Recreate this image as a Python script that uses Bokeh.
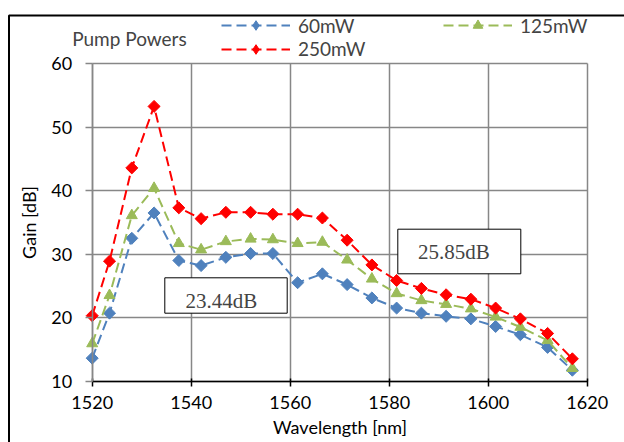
import math
from bokeh.plotting import figure
from bokeh.models import Range1d, Legend, LegendItem, Label, BoxAnnotation, FixedTicker
from bokeh.embed import file_html
from bokeh.resources import INLINE

# ---- data ----
wavelength = [1520, 1523.5, 1528, 1532.5, 1537.5, 1542, 1547, 1552, 1556.5, 1561.5, 1566.5,
              1571.5, 1576.5, 1581.5, 1586.5, 1591.5, 1596.5, 1601.5, 1606.5, 1612, 1617]
gain_60mW = [13.6, 20.7, 32.5, 36.5, 29.0, 28.2, 29.5, 30.1, 30.1, 25.5, 26.9,
             25.2, 23.1, 21.5, 20.7, 20.2, 19.8, 18.6, 17.3, 15.3, 11.7]
gain_125mW = [15.9, 23.5, 36.1, 40.4, 31.7, 30.7, 32.0, 32.4, 32.3, 31.7, 31.9,
              29.1, 26.1, 23.8, 22.7, 22.1, 21.4, 20.1, 18.5, 16.4, 12.0]
gain_250mW = [20.3, 28.9, 43.6, 53.3, 37.3, 35.6, 36.6, 36.6, 36.3, 36.3, 35.7,
              32.2, 28.3, 25.85, 24.6, 23.6, 22.9, 21.5, 19.8, 17.5, 13.5]
series_labels = ["60mW", "125mW", "250mW"]
x_ticks = [1520, 1540, 1560, 1580, 1600, 1620]
y_ticks = [10, 20, 30, 40, 50, 60]
note_texts = ["23.44dB", "25.85dB"]

FONT = "Lato"
GRID = "#878787"
W, H = 624, 442

# frame covers the whole canvas; the axes sit at fixed data locations
PX_PER_NM = 4.95
PX_PER_DB = 6.342
X0_PX, Y10_PX = 91.7, 380.5
x_start = 1520 - X0_PX / PX_PER_NM
x_end = x_start + W / PX_PER_NM
y_end = 10 + Y10_PX / PX_PER_DB
y_start = 10 - (H - Y10_PX) / PX_PER_DB

def dx(px):
    return 1520 + (px - X0_PX) / PX_PER_NM

def dy(py):
    return 10 + (Y10_PX - py) / PX_PER_DB

p = figure(width=W, height=H, x_range=Range1d(x_start, x_end), y_range=Range1d(y_start, y_end),
           output_backend="svg", toolbar_location=None,
           min_border_left=0, min_border_right=0, min_border_top=0, min_border_bottom=0)
p.outline_line_color = None
p.background_fill_color = "white"
p.border_fill_color = "white"

p.xaxis.ticker = FixedTicker(ticks=x_ticks)
p.yaxis.ticker = FixedTicker(ticks=y_ticks)
p.xaxis.fixed_location = 10
p.yaxis.fixed_location = 1520
p.xaxis.bounds = (1520, 1620)
p.yaxis.bounds = (10, 60)

grid_ok = True
try:
    p.xgrid.cross_bounds = (10, 60)
    p.ygrid.cross_bounds = (1520, 1620)
except Exception:
    grid_ok = False
if grid_ok:
    for g in (p.xgrid[0], p.ygrid[0]):
        g.grid_line_color = GRID
        g.grid_line_width = 1.5
else:
    p.xgrid.grid_line_color = None
    p.ygrid.grid_line_color = None
    p.segment(x0=x_ticks, y0=[y_ticks[0]] * len(x_ticks), x1=x_ticks, y1=[y_ticks[-1]] * len(x_ticks),
              line_color=GRID, line_width=1.5, level="underlay")
    p.segment(x0=[x_ticks[0]] * len(y_ticks), y0=y_ticks, x1=[x_ticks[-1]] * len(y_ticks), y1=y_ticks,
              line_color=GRID, line_width=1.5, level="underlay")

p.xaxis.axis_label = "Wavelength [nm]"
p.yaxis.axis_label = "Gain [dB]"
for ax in (p.xaxis[0], p.yaxis[0]):
    ax.major_label_text_font = FONT
    ax.major_label_text_font_size = "18px"
    ax.major_label_text_color = "black"
    ax.axis_label_text_font = FONT
    ax.axis_label_text_font_size = "18px"
    ax.axis_label_text_font_style = "normal"
    ax.axis_label_text_color = "black"
    ax.minor_tick_line_color = None
p.xaxis.axis_line_color = "black"
p.xaxis.axis_line_width = 1.5
p.xaxis.major_tick_line_color = "black"
p.xaxis.major_tick_line_width = 1.5
p.xaxis.major_tick_in = 3
p.xaxis.major_tick_out = 5
p.xaxis.major_label_standoff = 10
p.xaxis.axis_label_standoff = 3
p.yaxis.axis_line_color = GRID
p.yaxis.axis_line_width = 1.5
p.yaxis.major_tick_line_color = GRID
p.yaxis.major_tick_line_width = 1.5
p.yaxis.major_tick_in = 0
p.yaxis.major_tick_out = 7
p.yaxis.major_label_standoff = 13
p.yaxis.axis_label_standoff = 9

colors = ["#4F81BD", "#9BBB59", "#FF0000"]
gains = [gain_60mW, gain_125mW, gain_250mW]
items = {}
for lab, g, c in zip(series_labels, gains, colors):
    ln = p.line(wavelength, g, line_color=c, line_width=2, line_dash="10 5")
    if lab == "125mW":
        mk = p.scatter(wavelength, g, marker="triangle", size=11, fill_color=c, line_color=c)
        items[lab] = LegendItem(label=lab, renderers=[ln, mk])
    else:
        mk = p.scatter(wavelength, g, marker="square", angle=math.pi / 4, size=8.5,
                       fill_color=c, line_color=c)
        # legend-only swatch (legend glyphs ignore rotation); one undrawn NaN point
        swatch = p.scatter(x=[math.nan], y=[math.nan], marker="diamond", size=11,
                           fill_color=c, line_color=c)
        items[lab] = LegendItem(label=lab, renderers=[ln, swatch])

def style_legend(lg):
    lg.background_fill_alpha = 0
    lg.border_line_color = None
    lg.padding = 0
    lg.margin = 0
    lg.glyph_width = 69
    lg.glyph_height = 24
    lg.label_height = 24
    lg.label_standoff = 8
    lg.spacing = 0
    lg.label_text_font = FONT
    lg.label_text_font_size = "19px"
    lg.label_text_baseline = "middle"

# legend positions: (x from left, y of legend bottom from canvas bottom)
leg1 = Legend(items=[items["60mW"]], location=(221, H - 37))
leg2 = Legend(items=[items["250mW"]], location=(221, H - 60.5))
leg3 = Legend(items=[items["125mW"]], location=(443, H - 37))
for lg in (leg1, leg2, leg3):
    style_legend(lg)
    p.add_layout(lg)

p.add_layout(Label(x=dx(71.7), y=dy(38.3), text="Pump Powers", text_font=FONT,
                   text_font_size="19px", text_align="left", text_baseline="middle"))

# annotation boxes
boxes = [(dx(164.3), dx(286.7), dy(312.7), dy(277.3)), (dx(397.3), dx(520.3), dy(273.3), dy(228.7))]
text_pos = [(dx(221.0), dy(300.8)), (dx(453.5), dy(251.7))]
for (l, r, b, t), (tx, ty), txt in zip(boxes, text_pos, note_texts):
    p.add_layout(BoxAnnotation(left=l, right=r, bottom=b, top=t, fill_color="white",
                               fill_alpha=1, line_color="black", line_width=1, line_alpha=1))
    p.add_layout(Label(x=tx, y=ty, text=txt, text_font="Liberation Serif",
                       text_font_size="21px", text_align="center", text_baseline="middle"))

# outer chart border (left and top edges visible)
p.add_layout(BoxAnnotation(left=dx(8.5), top=dy(15), right=dx(W + 20), bottom=dy(H + 20),
                           fill_alpha=0, line_color="black", line_width=2, line_alpha=1))

open("out.html", "w").write(file_html(p, INLINE))
